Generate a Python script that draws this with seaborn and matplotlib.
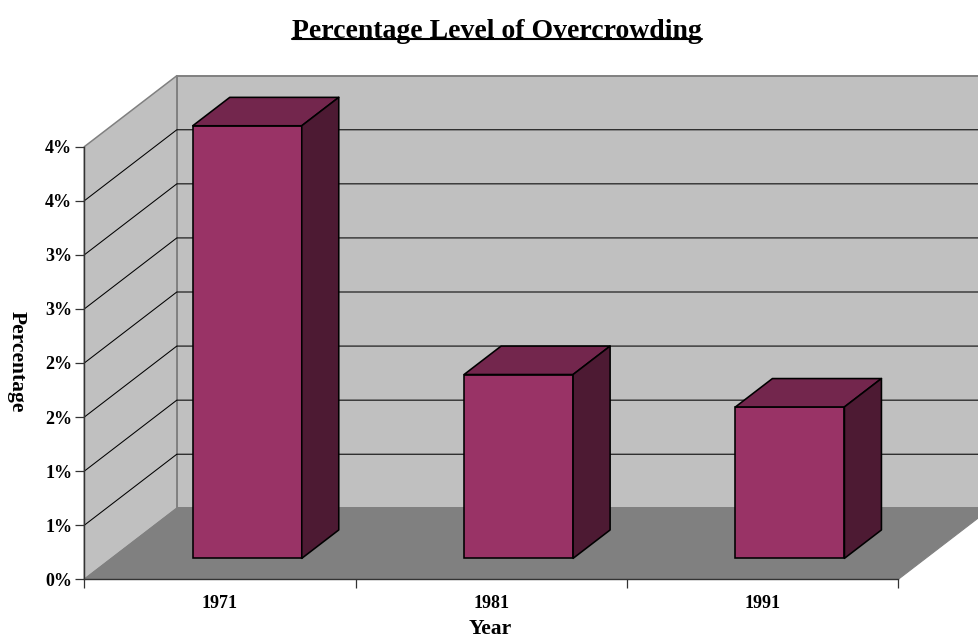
import matplotlib
matplotlib.use("Agg")
import matplotlib.pyplot as plt
from matplotlib.lines import Line2D
from matplotlib.patches import Polygon
import pandas as pd
import seaborn as sns

# --- DATA ---
years = ["1971", "1981", "1991"]
overcrowding = [4.0, 1.7, 1.4]
tick_values = [0, 0.5, 1, 1.5, 2, 2.5, 3, 3.5, 4]
tick_labels = ["0%", "1%", "1%", "2%", "2%", "3%", "3%", "4%", "4%"]

# --- CONFIG ---
W, H = 979, 639
wall_col = "#c0c0c0"
floor_col = "#808080"
front_col = "#993366"
top_col = "#73264d"
side_col = "#4d1a33"

sns.set_theme(style="white")
plt.rcParams["font.family"] = ["Liberation Serif", "DejaVu Serif"]
plt.rcParams["font.weight"] = "bold"

fig = plt.figure(figsize=(W / 100, H / 100), dpi=100, facecolor="white")
ax = fig.add_axes([84.3 / W, (H - 579.3) / H, 814 / W, 432.6 / H])
ax.patch.set_alpha(0)

# depth of the fake 3d box in data units
DX = 92.5 / 271.3
DY = 71 / 108.15
X0, X1 = -0.5, 2.5
YMAX = tick_values[-1]


def pt(x, y, d):
    return (x + d * DX, y + d * DY)


def poly(points, color, edge, lw, z):
    ax.add_patch(Polygon(points, closed=True, facecolor=color, edgecolor=edge,
                         linewidth=lw, zorder=z, clip_on=False, joinstyle="round"))


# --- BARS ---
df = pd.DataFrame({"Year": years, "Percentage": overcrowding})
sns.barplot(data=df, x="Year", y="Percentage", color=front_col, saturation=1,
            width=109 / 271.3, edgecolor="black", linewidth=1.15, ax=ax, zorder=2)

# bars stand 0.295 into the box and are 0.4 of it deep
near, far = 0.295, 0.695
for bar, value in zip(ax.containers[0], overcrowding):
    left = bar.get_x() + near * DX
    right = left + bar.get_width()
    base = near * DY
    bar.set_x(left)
    bar.set_y(base)
    bar.set_clip_on(False)
    d = far - near
    poly([(left, base + value), (right, base + value),
          pt(right, base + value, d), pt(left, base + value, d)],
         top_col, "black", 1.15, 2)
    poly([(right, base), (right, base + value),
          pt(right, base + value, d), pt(right, base, d)],
         side_col, "black", 1.15, 2)

# --- WALLS AND FLOOR ---
poly([pt(X0, 0, 1), pt(X0, YMAX, 1), pt(X1, YMAX, 1), pt(X1, 0, 1)], wall_col, floor_col, 1.4, 0.3)
poly([pt(X0, 0, 0), pt(X0, YMAX, 0), pt(X0, YMAX, 1), pt(X0, 0, 1)], wall_col, floor_col, 1.1, 0.4)
poly([pt(X0, 0, 0), pt(X1, 0, 0), pt(X1, 0, 1), pt(X0, 0, 1)], floor_col, floor_col, 0.8, 0.5)

for v in tick_values[1:-1]:
    a, b, c = pt(X0, v, 0), pt(X0, v, 1), pt(X1, v, 1)
    ax.plot([a[0], b[0], c[0]], [a[1], b[1], c[1]], color="black", lw=0.75,
            zorder=0.45, clip_on=False)

# --- AXES ---
ax.set_xlim(X0, X1)
ax.set_ylim(0, YMAX)
ax.set_yticks(tick_values, labels=tick_labels, fontsize=13, fontweight="bold", color="black")
ax.set_xticks(range(3), labels=years, fontsize=13, fontweight="bold", color="black")
ax.set_xticks([-0.5, 0.5, 1.5, 2.5], minor=True)
ax.tick_params(axis="x", which="major", length=0, pad=11.5, bottom=False)
ax.tick_params(axis="x", which="minor", length=6.2, width=0.9, color="#333333", bottom=True)
ax.tick_params(axis="y", length=6.2, width=0.9, color="#333333", pad=2.5, left=True)
ax.set_xlabel("")
ax.set_ylabel("")
sns.despine(ax=ax)
for side in ["left", "bottom"]:
    ax.spines[side].set_color("#333333")
    ax.spines[side].set_linewidth(1.0)
    ax.spines[side].set_zorder(3)

fig.text(497 / W, 1 - 37.5 / H, "Percentage Level of Overcrowding", ha="center", va="baseline",
         fontsize=20, fontweight="bold", color="black")
fig.add_artist(Line2D([292.5 / W, 702 / W], [1 - 38.6 / H] * 2, color="black", lw=1.5))
fig.text(490.5 / W, 1 - 628.5 / H, "Year", ha="center", va="center", fontsize=15.5, fontweight="bold", color="black")
fig.text(17 / W, 1 - 362 / H, "Percentage", ha="center", va="center", rotation=-90,
         fontsize=15.5, fontweight="bold", color="black")

fig.savefig("out.png", dpi=100)
